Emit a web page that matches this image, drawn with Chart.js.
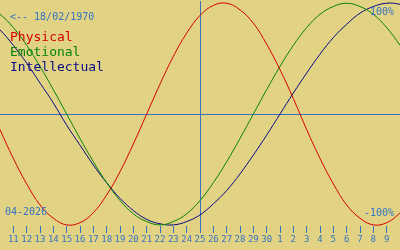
<!DOCTYPE html>
<html>
<head>
<meta charset="utf-8">
<script src="https://cdn.jsdelivr.net/npm/chart.js@4"></script>
<style>
  html, body { margin: 0; padding: 0; background: #e1d383; }
  #bio { display: block; }
</style>
</head>
<body>
<canvas id="bio" width="400" height="250"></canvas>
<script>
// day offsets from 11 April 2026 (index 0); -2..30 lets the lines run off both edges
const dayIndex = [-2, -1, 0, 1, 2, 3, 4, 5, 6, 7, 8, 9, 10, 11, 12, 13, 14, 15, 16,
  17, 18, 19, 20, 21, 22, 23, 24, 25, 26, 27, 28, 29, 30];

const physical = [0.14, -0.14, -0.40, -0.63, -0.82, -0.94, -1.00, -0.98, -0.89, -0.73, -0.52,
  -0.27, 0, 0.27, 0.52, 0.73, 0.89, 0.98, 1.00, 0.94, 0.82, 0.63, 0.40, 0.14, -0.14,
  -0.40, -0.63, -0.82, -0.94, -1.00, -0.98, -0.89, -0.73];

const emotional = [0.97, 0.90, 0.78, 0.62, 0.43, 0.22, 0, -0.22, -0.43, -0.62, -0.78,
  -0.90, -0.97, -1.00, -0.97, -0.90, -0.78, -0.62, -0.43, -0.22, 0, 0.22, 0.43, 0.62,
  0.78, 0.90, 0.97, 1.00, 0.97, 0.90, 0.78, 0.62, 0.43];

const intellectual = [0.87, 0.76, 0.62, 0.46, 0.28, 0.10, -0.10, -0.28, -0.46, -0.62, -0.76,
  -0.87, -0.95, -0.99, -1.00, -0.97, -0.91, -0.81, -0.69, -0.54, -0.37, -0.19, 0, 0.19,
  0.37, 0.54, 0.69, 0.81, 0.91, 0.97, 1.00, 0.99, 0.95];

// tick labels, one per day starting at index 0
const tickDays = ['11', '12', '13', '14', '15', '16', '17', '18', '19', '20', '21', '22',
  '23', '24', '25', '26', '27', '28', '29', '30', '1', '2', '3', '4', '5', '6', '7', '8', '9'];

const todayIndex = 14;
const birthDate = '18/02/1970';
const monthLabel = '04-2026';

const BG = '#e1d383';
const BLUE = '#3572c4';
const MONO = '"DejaVu Sans Mono", "Liberation Mono", monospace';

function toPoints(vals) {
  return dayIndex.map((d, i) => ({ x: d, y: vals[i] }));
}

const bioText = {
  id: 'bioText',
  beforeDraw(chart) {
    const ctx = chart.ctx;
    ctx.save();
    ctx.fillStyle = BG;
    ctx.fillRect(0, 0, chart.width, chart.height);
    ctx.restore();
  },
  afterDatasetsDraw(chart) {
    const ctx = chart.ctx;
    ctx.save();
    ctx.textBaseline = 'middle';
    ctx.textAlign = 'left';
    ctx.font = '10px ' + MONO;
    ctx.fillStyle = BLUE;
    ctx.fillText('<-- ' + birthDate, 10, 17);

    ctx.font = '13px ' + MONO;
    chart.data.datasets.forEach((ds, i) => {
      ctx.fillStyle = ds.borderColor;
      ctx.fillText(ds.label, 10, 38 + i * 15);
    });

    ctx.font = '10px ' + MONO;
    ctx.fillStyle = BLUE;
    ctx.fillText(monthLabel, 5, 212);
    ctx.textAlign = 'right';
    ctx.fillText('100%', 394, 12);
    ctx.fillText('-100%', 394, 213);
    ctx.restore();
  }
};

new Chart(document.getElementById('bio'), {
  type: 'line',
  data: {
    datasets: [
      { label: 'Physical', data: toPoints(physical), borderColor: '#d80000' },
      { label: 'Emotional', data: toPoints(emotional), borderColor: '#0a820a' },
      { label: 'Intellectual', data: toPoints(intellectual), borderColor: '#0a0a88' }
    ]
  },
  options: {
    responsive: false,
    animation: false,
    devicePixelRatio: 1,
    layout: { padding: { top: 1, left: 0, right: 0, bottom: 0 } },
    elements: {
      line: { borderWidth: 1, tension: 0.4, fill: false },
      point: { radius: 0 }
    },
    plugins: { legend: { display: false }, tooltip: { enabled: false } },
    scales: {
      x: {
        type: 'linear',
        min: -1,
        max: 29,
        afterBuildTicks: s => { s.ticks = tickDays.map((d, i) => ({ value: i })); },
        afterFit: s => { s.height = 24; },
        ticks: {
          callback: v => tickDays[v],
          color: BLUE,
          font: { family: MONO, size: 9 },
          padding: 1,
          maxRotation: 0,
          autoSkip: false
        },
        grid: {
          color: c => (c.tick && c.tick.value === todayIndex) ? BLUE : 'rgba(0,0,0,0)',
          tickColor: BLUE,
          tickLength: 7,
          lineWidth: 1
        },
        border: { display: false }
      },
      y: {
        min: -1.01,
        max: 1.02,
        afterBuildTicks: s => { s.ticks = [{ value: 0 }]; },
        afterFit: s => { s.width = 0; },
        ticks: { display: false },
        grid: { color: BLUE, drawTicks: false, lineWidth: 1 },
        border: { display: false }
      }
    }
  },
  plugins: [bioText]
});
</script>
</body>
</html>
